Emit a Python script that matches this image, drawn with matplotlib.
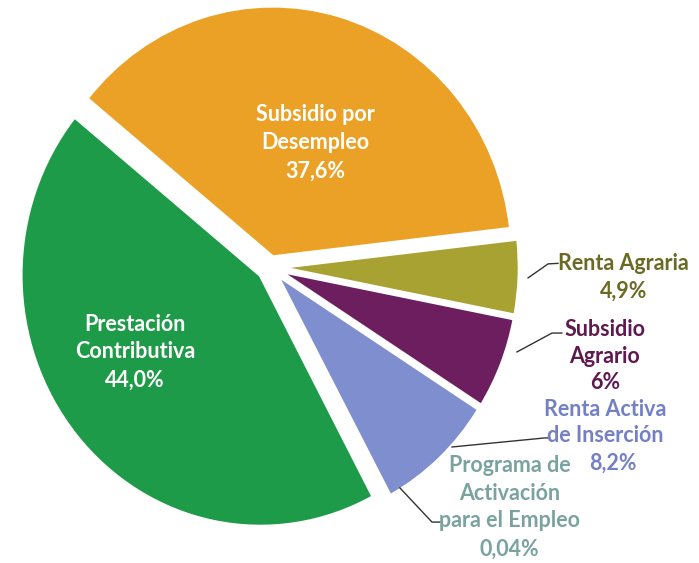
import matplotlib.pyplot as plt

plt.rcParams['font.family'] = ['Lato', 'DejaVu Sans']

# Distribution of unemployment benefits (%)
categories = ['Renta Agraria', 'Subsidio por\nDesempleo', 'Prestación\nContributiva',
              'Programa de\nActivación\npara el Empleo', 'Renta Activa\nde Inserción',
              'Subsidio\nAgrario']
values = [4.9, 37.6, 44.0, 0.04, 8.2, 6.0]
pct_labels = ['4,9%', '37,6%', '44,0%', '0,04%', '8,2%', '6%']

colors = ['#A8A233', '#EBA125', '#1E9B48', '#2F8F5F', '#7E8ECF', '#6C1E5E']
text_colors = ['#6B6A24', 'white', 'white', '#7AA3A0', '#7580C4', '#5E1A50']
explode = [0.04, 0.04, 0.05, 0.04, 0.04, 0.04]

fig = plt.figure(figsize=(6.99, 5.63), dpi=100)
ax = fig.add_axes([0, 0, 1, 1])

wedges, _ = ax.pie(values, colors=colors, explode=explode, startangle=-11,
                   counterclock=True, radius=0.97,
                   wedgeprops=dict(edgecolor='white', linewidth=2.5))

# pie in the original is slightly taller than wide
ax.set_aspect('auto')
ax.set_xlim(-1.093, 1.737)
ax.set_ylim(-1.143, 1.031)
ax.axis('off')

fs = 15.5
# labels inside the two big slices
ax.text(0.182, 0.479, f'{categories[1]}\n{pct_labels[1]}', ha='center', va='center',
        color=text_colors[1], fontsize=fs, fontweight='bold', linespacing=1.45)
ax.text(-0.547, -0.328, f'{categories[2]}\n{pct_labels[2]}', ha='center', va='center',
        color=text_colors[2], fontsize=fs, fontweight='bold', linespacing=1.4)

# outside labels with leader lines
ax.plot([1.045, 1.126, 1.166], [-0.042, 0.012, 0.014], color='#333333', lw=1)
ax.text(1.43, -0.039, f'{categories[0]}\n{pct_labels[0]}', ha='center', va='center',
        color=text_colors[0], fontsize=fs, fontweight='bold', linespacing=1.4)

ax.plot([1.0, 1.142, 1.182], [-0.328, -0.255, -0.255], color='#333333', lw=1)
ax.text(1.356, -0.344, f'{categories[5]}\n{pct_labels[5]}', ha='center', va='center',
        color=text_colors[5], fontsize=fs, fontweight='bold', linespacing=1.3)

ax.plot([0.737, 1.113, 1.133], [-0.695, -0.660, -0.660], color='#333333', lw=1)
ax.text(1.356, -0.602, 'Renta Activa\nde Inserción', ha='center', va='center',
        color=text_colors[4], fontsize=fs, fontweight='bold', linespacing=1.3)
ax.text(1.39, -0.757, pct_labels[4], ha='center', va='center',
        color=text_colors[4], fontsize=fs, fontweight='bold')

ax.plot([0.526, 0.656, 0.688], [-0.853, -0.985, -0.985], color='#333333', lw=1)
ax.text(0.97, -0.927, f'{categories[3]}\n{pct_labels[3]}', ha='center', va='center',
        color=text_colors[3], fontsize=fs, fontweight='bold', linespacing=1.4)

fig.savefig('out.png', dpi=100)
